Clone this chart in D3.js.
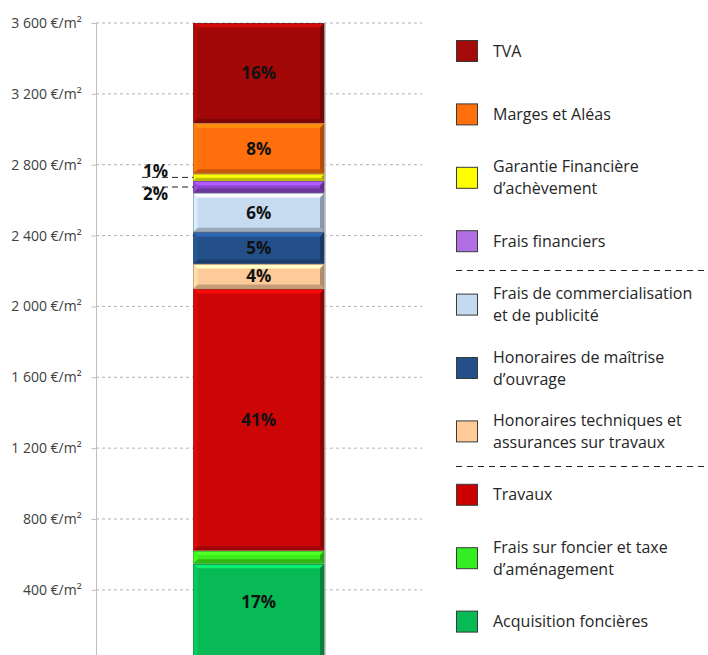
<!DOCTYPE html>
<html><head><meta charset="utf-8">
<script src="https://cdn.jsdelivr.net/npm/d3@7"></script>
<style>html,body{margin:0;padding:0;background:#fff;}svg{display:block;font-family:"Open Sans",sans-serif;}</style>
</head><body><svg id="c" width="708" height="655"></svg>
<script>
// Stacking order: bottom to top
const categories = ["Acquisition foncières","Frais sur foncier et taxe d’aménagement","Travaux","Honoraires techniques et assurances sur travaux","Honoraires de maîtrise d’ouvrage","Frais de commercialisation et de publicité","Frais financiers","Garantie Financière d’achèvement","Marges et Aléas","TVA"];
const values = [547, 74, 1477, 142, 179, 221, 68, 41, 285, 566];
const percentLabels = ["17%", "", "41%", "4%", "5%", "6%", "2%", "1%", "8%", "16%"];
const outsideLabel = [false, false, false, false, false, false, true, true, false, false];
const colors = ["#07BA56","#3CEB1C","#CC0606","#FDCB9A","#24508A","#C6DAF0","#8A45C8","#F2F200","#FF700C","#A30808"];
const legendColors = ["#07BA56","#33EE22","#CC0000","#FFCC99","#254F8A","#C5D9F1","#B26FE3","#FFFF00","#FF700C","#A50A0A"];
const legendLines = [["Acquisition foncières"],["Frais sur foncier et taxe","d’aménagement"],["Travaux"],["Honoraires techniques et","assurances sur travaux"],["Honoraires de maîtrise","d’ouvrage"],["Frais de commercialisation","et de publicité"],["Frais financiers"],["Garantie Financière","d’achèvement"],["Marges et Aléas"],["TVA"]];
const tickValues = [400, 800, 1200, 1600, 2000, 2400, 2800, 3200, 3600];
const tickLabels = ["400 €/m²","800 €/m²","1 200 €/m²","1 600 €/m²","2 000 €/m²","2 400 €/m²","2 800 €/m²","3 200 €/m²","3 600 €/m²"];

const svg = d3.select("#c");
const y = d3.scaleLinear().domain([0, 3600]).range([660.7, 23]);
const bx0 = 193.5, bx1 = 324;
const visibleBottom = 641;

// gridlines
svg.append("g").selectAll("line").data(tickValues).join("line")
  .attr("x1", 96).attr("x2", 422).attr("y1", d => y(d)).attr("y2", d => y(d))
  .attr("stroke", "#b3b3b3").attr("stroke-width", 1).attr("stroke-dasharray", "3,3");

// axis
const axis = d3.axisLeft(y).tickValues(tickValues).tickFormat((d, i) => tickLabels[i]).tickSize(5).tickPadding(10);
const ag = svg.append("g").attr("transform", "translate(96.5,0)").call(axis);
ag.select(".domain").attr("d", `M0,${y(3600)}V655`).attr("stroke", "#bfbfbf");
ag.selectAll(".tick line").attr("stroke", "#bfbfbf");
ag.selectAll(".tick text").attr("font-size", 14).attr("fill", "#404040").attr("font-family", "Open Sans");

// stacked data
let acc = 0;
const segs = values.map((v, i) => { const s = {i, v0: acc, v1: acc + v}; acc += v; return s; });

// shadow on right
svg.append("rect").attr("x", bx1).attr("y", y(acc)).attr("width", 2).attr("height", 655 - y(acc)).attr("fill", "#c8c8c8");

const gBar = svg.append("g");
segs.forEach(s => {
  const top = y(s.v1) + 0.5, bot = y(s.v0) - 0.5;
  const h = bot - top;
  const b = Math.min(4, h / 2.5);
  const c = d3.color(colors[s.i]);
  const g = gBar.append("g");
  g.append("rect").attr("x", bx0).attr("y", top).attr("width", bx1 - bx0).attr("height", h).attr("fill", c.formatHex());
  const poly = (pts, fill) => g.append("polygon").attr("points", pts.map(p => p.join(",")).join(" ")).attr("fill", fill);
  poly([[bx0, top],[bx1, top],[bx1 - b, top + b],[bx0 + b, top + b]], c.brighter(0.7).formatHex());
  poly([[bx0, bot],[bx1, bot],[bx1 - b, bot - b],[bx0 + b, bot - b]], c.darker(0.7).formatHex());
  poly([[bx0, top],[bx0 + b, top + b],[bx0 + b, bot - b],[bx0, bot]], c.brighter(0.25).formatHex());
  poly([[bx1, top],[bx1 - b, top + b],[bx1 - b, bot - b],[bx1, bot]], c.darker(1.0).formatHex());
  g.append("rect").attr("x", bx0).attr("y", top).attr("width", bx1 - bx0).attr("height", h)
    .attr("fill", "none").attr("stroke", c.darker(1.2).formatHex()).attr("stroke-width", 0.6);
});

// inside labels (centred on visible part of segment)
const cx = (bx0 + bx1) / 2;
svg.append("g").selectAll("text").data(segs.filter(s => percentLabels[s.i] && !outsideLabel[s.i])).join("text")
  .attr("x", cx).attr("y", s => (Math.min(y(s.v0), visibleBottom) + y(s.v1)) / 2 + 6)
  .attr("text-anchor", "middle").attr("font-size", 17).attr("font-weight", "bold").attr("fill", "#111")
  .text(s => percentLabels[s.i]);

// outside labels with leaders
const outs = segs.filter(s => outsideLabel[s.i]);
outs.forEach(s => {
  const my = (y(s.v0) + y(s.v1)) / 2;
  svg.append("line").attr("x1", 142).attr("x2", bx0).attr("y1", my).attr("y2", my)
    .attr("stroke", "#222").attr("stroke-width", 1).attr("stroke-dasharray", "6,4");
  const above = s.v0 > segs[6].v0;
  svg.append("text").attr("x", 155.5).attr("y", above ? my - 0.5 : my + 13)
    .attr("text-anchor", "middle").attr("font-size", 17).attr("font-weight", "bold").attr("fill", "#111")
    .text(percentLabels[s.i]);
});

// legend (top to bottom is reverse order)
const legOrder = d3.range(categories.length).reverse();
const lg = svg.append("g");
legOrder.forEach((idx, k) => {
  const cy = 51 + k * 63.4;
  lg.append("rect").attr("x", 456.5).attr("y", cy - 10.5).attr("width", 21).attr("height", 21)
    .attr("fill", legendColors[idx]).attr("stroke", "#3a3a3a").attr("stroke-width", 1);
  const lines = legendLines[idx];
  const t = lg.append("text").attr("font-size", 16).attr("fill", "#262626");
  lines.forEach((ln, j) => {
    t.append("tspan").attr("x", 493).attr("y", cy + 5.5 + (j - (lines.length - 1) / 2) * 22).text(ln);
  });
});
[270, 466].forEach(yy => {
  lg.append("line").attr("x1", 456).attr("x2", 708).attr("y1", yy + 0.5).attr("y2", yy + 0.5)
    .attr("stroke", "#222").attr("stroke-width", 1).attr("stroke-dasharray", "6,5");
});
</script></body></html>
